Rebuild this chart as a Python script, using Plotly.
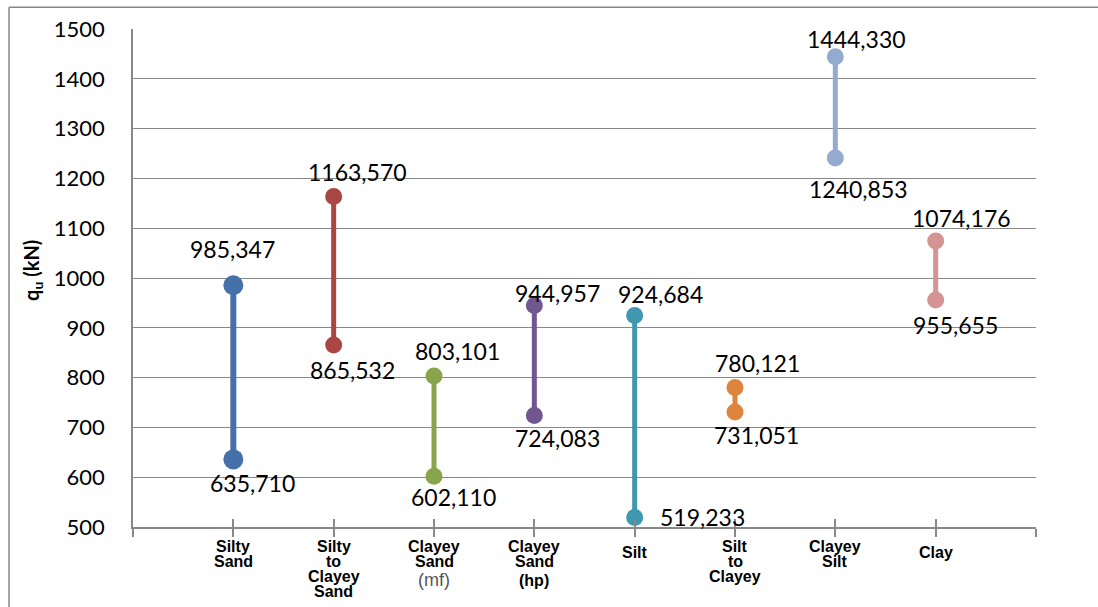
import plotly.graph_objects as go

# Soil classes along the x axis (one list of text lines per class)
categories = [
    ["Silty", "Sand"],
    ["Silty", "to", "Clayey", "Sand"],
    ["Clayey", "Sand", "(mf)"],
    ["Clayey", "Sand", "(hp)"],
    ["Silt"],
    ["Silt", "to", "Clayey"],
    ["Clayey", "Silt"],
    ["Clay"],
]

# Ultimate capacity range q_u (kN) for each soil class
qu_min = [635.710, 865.532, 602.110, 724.083, 519.233, 731.051, 1240.853, 955.655]
qu_max = [985.347, 1163.570, 803.101, 944.957, 924.684, 780.121, 1444.330, 1074.176]

y_ticks = [500, 600, 700, 800, 900, 1000, 1100, 1200, 1300, 1400, 1500]

colors = ["#4571A8", "#AA4643", "#89A54B", "#71578F", "#3F98AF",
          "#DE843D", "#95AAD0", "#D49494"]
marker_sizes = [20, 17, 17, 17, 17, 17, 17, 17]
line_widths = [6, 5, 5, 5, 5, 5, 5, 5]

# pixel offsets of the value labels relative to their marker: (dx, dy) for max and min
max_label_offsets = [(-1, -36), (24, -25), (23, -25), (23, -12), (26, -22), (22, -25), (21, -18), (26, -23)]
min_label_offsets = [(19, 24), (19, 25), (19, 21), (23, 23), (68, 0), (21, 23), (23, 31), (20, 25)]

GRID = "#888888"
FONT_NUM = "Lato"


def fmt(v):
    return f"{v:.3f}".replace(".", ",")


fig = go.Figure()

for i, (lo, hi) in enumerate(zip(qu_min, qu_max)):
    xpos = i + 1
    fig.add_trace(go.Scatter(
        x=[xpos, xpos], y=[lo, hi],
        mode="lines+markers",
        line=dict(color=colors[i], width=line_widths[i]),
        marker=dict(color=colors[i], size=marker_sizes[i]),
        showlegend=False, hoverinfo="y",
    ))

# invisible trace to carry the overlaid tick axis
fig.add_trace(go.Scatter(x=[0, 9], y=[500, 500], xaxis="x2", mode="markers",
                         marker=dict(opacity=0), showlegend=False, hoverinfo="skip"))

annotations = []
for i, (lo, hi) in enumerate(zip(qu_min, qu_max)):
    xpos = i + 1
    for v, (dx, dy) in ((hi, max_label_offsets[i]), (lo, min_label_offsets[i])):
        annotations.append(dict(
            x=xpos, y=v, xref="x", yref="y", text=fmt(v), showarrow=False,
            xshift=dx, yshift=-dy,
            font=dict(family=FONT_NUM, size=23, color="#000000"),
        ))

# category labels, one annotation per text line, stacked tightly
for i, lines in enumerate(categories):
    first = 6 if len(lines) == 1 else 0
    for k, line in enumerate(lines):
        paren = line.startswith("(")
        style = dict(family="Arial", size=16, color="#000000", weight="bold")
        if line == "(mf)":
            style = dict(family="Arial", size=18, color="#555555", weight="normal")
        annotations.append(dict(
            x=i + 1, y=0, xref="x", yref="paper", text=line, showarrow=False,
            xanchor="center", yanchor="middle",
            yshift=-(19 + first + k * 15 + (4 if paren else 0)),
            font=style,
        ))

# axis title
annotations.append(dict(
    x=-0.112, y=0.516, xref="paper", yref="paper", xanchor="center", yanchor="middle",
    text="<b>q<sub>u</sub> (kN)</b>", textangle=-90, showarrow=False,
    font=dict(family=FONT_NUM, size=20, color="#000000"),
))

shapes = [
    # chart frame (left and top edges)
    dict(type="line", xref="paper", yref="paper", x0=-0.1373, x1=-0.1373, y0=-0.25, y1=1.0435,
         line=dict(color=GRID, width=1.5)),
    dict(type="line", xref="paper", yref="paper", x0=-0.1373, x1=1.1, y0=1.0435, y1=1.0435,
         line=dict(color=GRID, width=1.5)),
]

fig.update_layout(
    width=1098, height=607,
    margin=dict(l=133, r=62, t=29, b=80),
    paper_bgcolor="white", plot_bgcolor="white",
    annotations=annotations, shapes=shapes,
    xaxis=dict(
        range=[0, 9], tickvals=list(range(10)), showticklabels=False,
        ticks="outside", ticklen=8, tickwidth=1.5, tickcolor=GRID,
        showline=True, linecolor=GRID, linewidth=1.5,
        showgrid=False, zeroline=False, fixedrange=True,
    ),
    xaxis2=dict(
        range=[0, 9], tickvals=list(range(10)),
        overlaying="x", anchor="y", side="bottom",
        ticks="inside", ticklen=8, tickwidth=1.5, tickcolor=GRID,
        showline=False, showgrid=False, zeroline=False, showticklabels=False,
    ),
    yaxis=dict(
        range=[500, 1500], tickvals=y_ticks,
        ticktext=[str(t) for t in y_ticks],
        showline=True, linecolor=GRID, linewidth=1.5,
        showgrid=True, gridcolor=GRID, gridwidth=1.3,
        zeroline=False, ticks="", ticklabelstandoff=22,
        tickfont=dict(family=FONT_NUM, size=22, color="#000000"),
    ),
)

fig.write_html("out.html")
